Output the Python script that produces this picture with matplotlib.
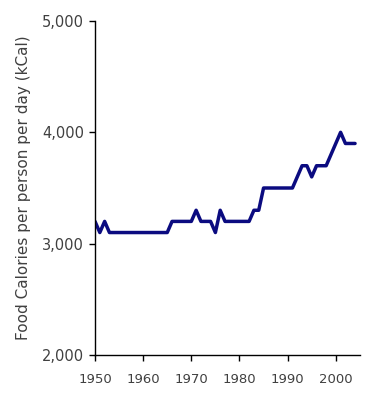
import matplotlib
matplotlib.use("Agg")
import matplotlib.pyplot as plt

years = list(range(1950, 2005))
calories = [
    3200, 3100, 3200, 3100, 3100, 3100, 3100, 3100, 3100, 3100,  # 1950-1959
    3100, 3100, 3100, 3100, 3100, 3100, 3200, 3200, 3200, 3200,  # 1960-1969
    3200, 3300, 3200, 3200, 3200, 3100, 3300, 3200, 3200, 3200,  # 1970-1979
    3200, 3200, 3200, 3300, 3300, 3500, 3500, 3500, 3500, 3500,  # 1980-1989
    3500, 3500, 3600, 3700, 3700, 3600, 3700, 3700, 3700, 3800,  # 1990-1999
    3900, 4000, 3900, 3900, 3900,                                # 2000-2004
]
xticks = [1950, 1960, 1970, 1980, 1990, 2000]
yticks = [2000, 3000, 4000, 5000]
ylabel = "Food Calories per person per day (kCal)"

plt.rcParams['font.family'] = ['DejaVu Sans']
fig = plt.figure(figsize=(3.8, 4.0), dpi=100)
ax = fig.add_axes([0.25, 0.1125, 0.697, 0.835])

ax.plot(years, calories, color='#0b0b80', linewidth=2.5, solid_joinstyle='round', solid_capstyle='round')

ax.set_xlim(1950, 2005)
ax.set_ylim(2000, 5000)
ax.set_xticks(xticks)
ax.set_yticks(yticks)
ax.set_yticklabels([f"{v:,}" for v in yticks])
ax.set_xticklabels([str(v) for v in xticks])

for s in ['top', 'right']:
    ax.spines[s].set_visible(False)
for s in ['left', 'bottom']:
    ax.spines[s].set_linewidth(1.0)
    ax.spines[s].set_color('black')

ax.tick_params(axis='y', direction='out', length=4, width=1, labelsize=10.5, labelcolor='#404040', pad=4)
ax.tick_params(axis='x', direction='out', length=4, width=1, labelsize=9.5, labelcolor='#404040', pad=9)
ax.set_ylabel(ylabel, fontsize=11, color='#404040', labelpad=8)

fig.savefig('out.png', dpi=100)
